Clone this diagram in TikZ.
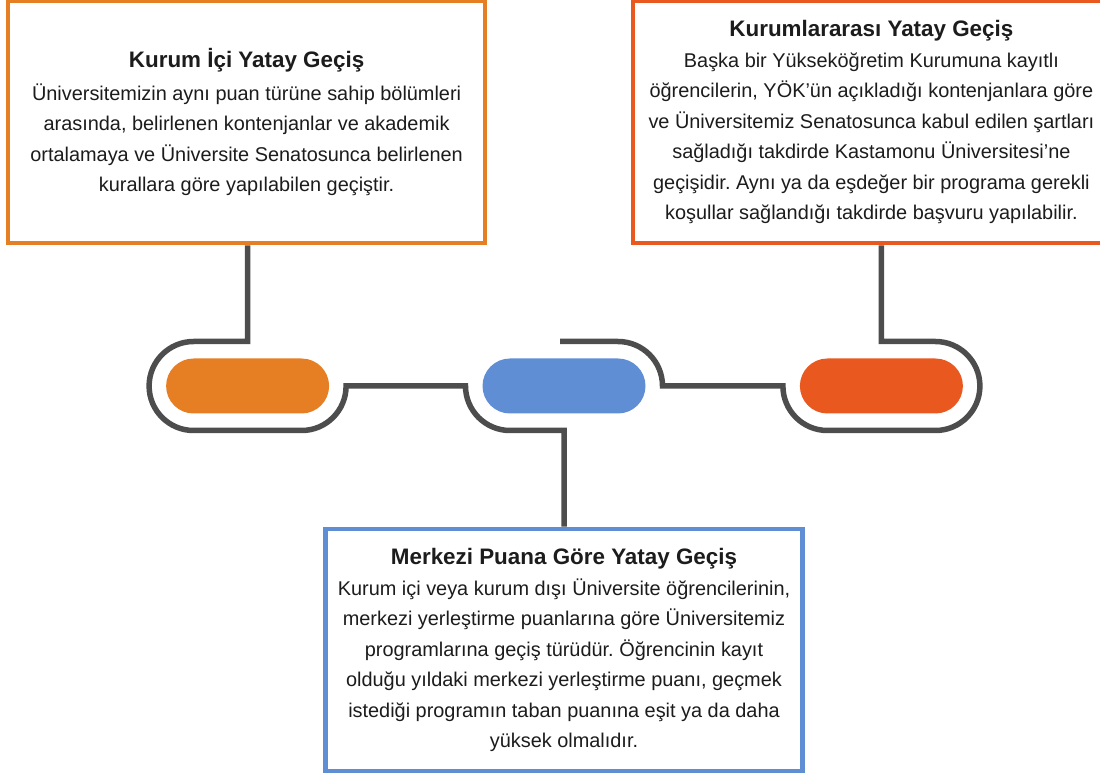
\documentclass[tikz,border=0pt]{standalone}
\usepackage{fontspec}
\setmainfont{Liberation Sans}
\usepackage{tikz}
\usetikzlibrary{positioning, calc}
\frenchspacing
\definecolor{kurum_orange}{HTML}{E67F24}
\definecolor{kurum_red}{HTML}{E8581F}
\definecolor{merkez_blue}{HTML}{5F8ED5}
\definecolor{track_gray}{HTML}{4D4D4D}
\definecolor{text_black}{HTML}{1C1C1C}
\tikzset{
  infobox/.style={rectangle,line width=4.5pt,fill=white,minimum width=477pt,minimum height=242pt,inner sep=2pt,align=center,text=text_black,font=\fontsize{19.9}{30.5}\selectfont},
  pill/.style={rectangle,rounded corners=27.5pt,minimum width=163pt,minimum height=55pt,inner sep=0pt},
  track/.style={line width=5.5pt,track_gray},
}
\newcommand{\boxtitle}[1]{{\bfseries\fontsize{22.4}{30.5}\selectfont #1}}

\begin{document}
\begin{tikzpicture}[x=1pt,y=1pt]
	\useasboundingbox (0,0) rectangle (1100,777);
	% pills
	\node[pill,fill=merkez_blue] (P2) at (564,391) {};
	\node[pill,fill=kurum_orange,left=153pt of P2] (P1) {};
	\node[pill,fill=kurum_red,right=154pt of P2] (P3) {};
	% boxes
	\node[infobox,draw=kurum_orange,above=113pt of P1,xshift=-1pt] (KI) {\boxtitle{Kurum İçi Yatay Geçiş}\\[2pt]
		Üniversitemizin aynı puan türüne sahip bölümleri\\
		arasında, belirlenen kontenjanlar ve akademik\\
		ortalamaya ve Üniversite Senatosunca belirlenen\\
		kurallara göre yapılabilen geçiştir.};
	\node[infobox,draw=kurum_red,above=113pt of P3,xshift=-10pt] (KA) {\boxtitle{Kurumlararası Yatay Geçiş}\\
		Başka bir Yükseköğretim Kurumuna kayıtlı\\
		öğrencilerin, YÖK’ün açıkladığı kontenjanlara göre\\
		ve Üniversitemiz Senatosunca kabul edilen şartları\\
		sağladığı takdirde Kastamonu Üniversitesi’ne\\
		geçişidir. Aynı ya da eşdeğer bir programa gerekli\\
		koşullar sağlandığı takdirde başvuru yapılabilir.};
	\node[infobox,draw=merkez_blue,below=113pt of P2] (MP) {\boxtitle{Merkezi Puana Göre Yatay Geçiş}\\
		Kurum içi veya kurum dışı Üniversite öğrencilerinin,\\
		merkezi yerleştirme puanlarına göre Üniversitemiz\\
		programlarına geçiş türüdür. Öğrencinin kayıt\\
		olduğu yıldaki merkezi yerleştirme puanı, geçmek\\
		istediği programın taban puanına eşit ya da daha\\
		yüksek olmalıdır.};
	% tracks
	\draw[track] (KI.south -| P1) -- ($(P1)+(0,44.5)$) -- ($(P1)+(-54,44.5)$)
		arc[start angle=90,end angle=270,radius=44.5pt] -- ($(P1)+(54,-44.5)$)
		arc[start angle=-90,end angle=0,radius=44.5pt] -- ($(P2)+(-98.5,0)$)
		arc[start angle=180,end angle=270,radius=44.5pt] -- ($(P2)+(0,-44.5)$) -- (MP.north -| P2);
	\draw[track] ($(P2)+(-4,44.5)$) -- ($(P2)+(54,44.5)$)
		arc[start angle=90,end angle=0,radius=44.5pt] -- ($(P3)+(-98.5,0)$)
		arc[start angle=180,end angle=270,radius=44.5pt] -- ($(P3)+(54,-44.5)$)
		arc[start angle=-90,end angle=90,radius=44.5pt] -- ($(P3)+(0,44.5)$) -- (KA.south -| P3);
\end{tikzpicture}
\end{document}
